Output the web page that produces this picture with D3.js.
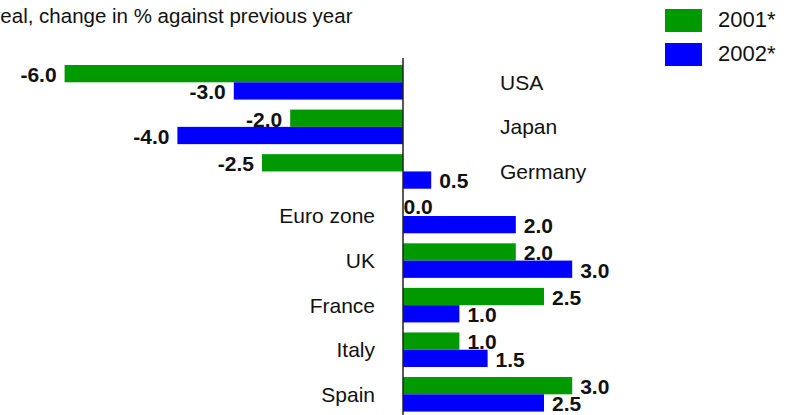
<!DOCTYPE html>
<html>
<head>
<meta charset="utf-8">
<script src="https://cdn.jsdelivr.net/npm/d3@7"></script>
<style>
  body { margin: 0; background: #fff; }
  svg { display: block; font-family: "Liberation Sans", Arial, sans-serif; }
</style>
</head>
<body>
<svg id="chart" width="789" height="415"></svg>
<script>
const title = "real, change in % against previous year";
const categories = ["USA", "Japan", "Germany", "Euro zone", "UK", "France", "Italy", "Spain"];
const seriesNames = ["2001*", "2002*"];
const values2001 = [-6.0, -2.0, -2.5, 0.0, 2.0, 2.5, 1.0, 3.0];
const values2002 = [-3.0, -4.0, 0.5, 2.0, 3.0, 1.0, 1.5, 2.5];
const colors = ["#009900", "#0000ff"];

const width = 789, height = 415;
const svg = d3.select("#chart");

const x = d3.scaleLinear()
    .domain([-6, 6])
    .range([64.6, 741.4]);

const y = d3.scaleBand()
    .domain(categories)
    .range([60, 416.6])
    .paddingInner(0.225)
    .paddingOuter(0.1125);

const ySub = d3.scaleBand()
    .domain(seriesNames)
    .range([0, y.bandwidth()]);

// plain hyphen for the minus, like the original
const fmt = v => v.toFixed(1);

const series = seriesNames.map((name, i) => ({
    name,
    color: colors[i],
    values: (i === 0 ? values2001 : values2002).map((v, j) => ({cat: categories[j], v}))
}));

// title, first letter runs off the left edge like the original
svg.append("text")
    .attr("x", -6.5)
    .attr("y", 23)
    .attr("font-size", 20.5)
    .attr("fill", "#111")
    .text(title);

// bars and value labels, series by series (later bars cover earlier labels)
series.forEach(s => {
    svg.append("g")
        .attr("fill", s.color)
        .selectAll("rect")
        .data(s.values)
        .join("rect")
        .attr("x", d => x(Math.min(0, d.v)))
        .attr("y", d => y(d.cat) + ySub(s.name))
        .attr("width", d => Math.abs(x(d.v) - x(0)))
        .attr("height", ySub.bandwidth());

    svg.append("g")
        .attr("font-size", 21)
        .attr("font-weight", "bold")
        .attr("fill", "#111")
        .selectAll("text")
        .data(s.values)
        .join("text")
        .attr("x", d => d.v < 0 ? x(d.v) - 8 : d.v > 0 ? x(d.v) + 8 : x(0) + 0.5)
        .attr("y", d => y(d.cat) + ySub(s.name) + ySub.bandwidth() / 2 + (d.v === 0 ? -1 : 1))
        .attr("dy", "0.35em")
        .attr("text-anchor", d => d.v < 0 ? "end" : "start")
        .text(d => fmt(d.v));
});

// zero line
svg.append("line")
    .attr("x1", x(0)).attr("x2", x(0))
    .attr("y1", y.range()[0] - 2).attr("y2", height)
    .attr("stroke", "#222")
    .attr("stroke-width", 1.5);

// category labels: right of the axis where the bars go negative
svg.append("g")
    .attr("font-size", 21)
    .attr("fill", "#111")
    .selectAll("text")
    .data(categories)
    .join("text")
    .attr("x", (c, i) => values2001[i] < 0 ? x(0) + 97 : x(0) - 28)
    .attr("y", c => y(c) + y.bandwidth() / 2)
    .attr("dy", "0.35em")
    .attr("text-anchor", (c, i) => values2001[i] < 0 ? "start" : "end")
    .text(c => c);

// legend
const legend = svg.append("g")
    .selectAll("g")
    .data(series)
    .join("g")
    .attr("transform", (d, i) => `translate(665,${9 + i * 34})`);

legend.append("rect")
    .attr("width", 37)
    .attr("height", 23)
    .attr("fill", d => d.color);

legend.append("text")
    .attr("x", 53)
    .attr("y", 18)
    .attr("font-size", 22)
    .attr("fill", "#111")
    .text(d => d.name);
</script>
</body>
</html>
